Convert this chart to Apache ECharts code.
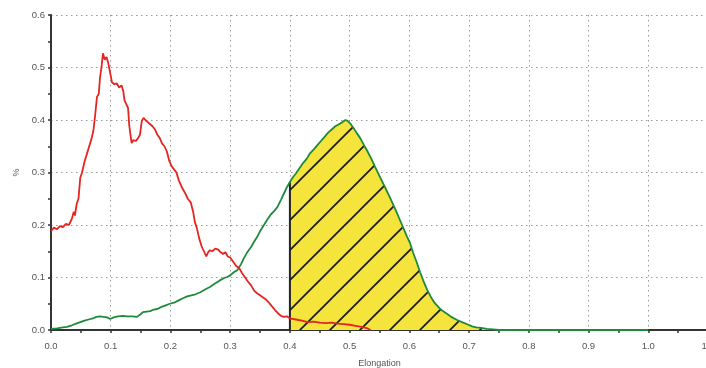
<!DOCTYPE html>
<html><head><meta charset="utf-8">
<script src="https://cdn.jsdelivr.net/npm/echarts@6/dist/echarts.min.js"></script>
<style>html,body{margin:0;padding:0;background:#fff}#c{width:706px;height:368px}</style>
</head><body><div id="c"></div>
<script>
var xTicks = [0,0.1,0.2,0.3,0.4,0.5,0.6,0.7,0.8,0.9,1.0,1.1];
var yTicks = [0,0.1,0.2,0.3,0.4,0.5,0.6];
var xName = 'Elongation';
var yName = '%';
var threshold = 0.4;

var redX = [0.000,0.005,0.010,0.015,0.020,0.025,0.030,0.035,0.038,0.040,0.043,0.046,0.049,0.052,0.056,0.060,0.064,0.068,0.071,0.074,0.077,0.080,0.082,0.085,0.087,0.090,0.093,0.096,0.099,0.102,0.106,0.110,0.114,0.118,0.121,0.123,0.126,0.129,0.131,0.133,0.135,0.138,0.142,0.146,0.149,0.152,0.155,0.158,0.162,0.166,0.170,0.174,0.178,0.182,0.186,0.190,0.194,0.198,0.202,0.206,0.210,0.214,0.219,0.224,0.229,0.234,0.238,0.241,0.244,0.248,0.252,0.256,0.260,0.263,0.266,0.270,0.275,0.280,0.284,0.288,0.292,0.296,0.300,0.305,0.310,0.315,0.320,0.325,0.330,0.335,0.340,0.345,0.350,0.355,0.360,0.365,0.370,0.375,0.380,0.385,0.390,0.395,0.400,0.410,0.420,0.430,0.440,0.450,0.460,0.470,0.480,0.490,0.500,0.510,0.520,0.530,0.535];
var redY = [0.188,0.195,0.192,0.198,0.196,0.202,0.200,0.212,0.225,0.218,0.240,0.250,0.290,0.300,0.320,0.335,0.350,0.365,0.380,0.410,0.444,0.450,0.480,0.505,0.527,0.515,0.520,0.508,0.510,0.472,0.468,0.470,0.462,0.466,0.455,0.438,0.430,0.423,0.390,0.372,0.356,0.362,0.360,0.366,0.372,0.398,0.404,0.400,0.396,0.392,0.388,0.382,0.372,0.366,0.355,0.350,0.340,0.322,0.312,0.306,0.300,0.285,0.272,0.262,0.250,0.243,0.225,0.205,0.195,0.175,0.160,0.150,0.140,0.148,0.152,0.150,0.155,0.153,0.148,0.145,0.148,0.140,0.138,0.130,0.122,0.118,0.108,0.100,0.092,0.085,0.075,0.070,0.066,0.062,0.058,0.052,0.045,0.038,0.032,0.027,0.025,0.026,0.022,0.020,0.018,0.015,0.016,0.014,0.013,0.014,0.012,0.011,0.010,0.008,0.006,0.003,0.000];

var greenX = [0.000,0.010,0.020,0.027,0.035,0.042,0.049,0.056,0.063,0.070,0.076,0.082,0.088,0.094,0.099,0.105,0.112,0.120,0.128,0.136,0.144,0.150,0.154,0.160,0.166,0.172,0.178,0.185,0.192,0.199,0.206,0.213,0.220,0.228,0.235,0.242,0.250,0.258,0.266,0.274,0.282,0.290,0.295,0.300,0.306,0.312,0.318,0.323,0.328,0.335,0.340,0.345,0.350,0.356,0.362,0.368,0.374,0.379,0.385,0.390,0.395,0.400,0.405,0.410,0.416,0.422,0.428,0.434,0.440,0.446,0.452,0.458,0.464,0.470,0.476,0.482,0.488,0.493,0.497,0.502,0.507,0.512,0.518,0.524,0.530,0.536,0.542,0.548,0.554,0.560,0.566,0.572,0.578,0.584,0.590,0.596,0.601,0.606,0.612,0.618,0.624,0.630,0.636,0.642,0.650,0.656,0.663,0.670,0.680,0.690,0.697,0.705,0.712,0.720,0.730,0.740,0.750,0.800,0.900,1.000];
var greenY = [0.002,0.003,0.005,0.006,0.009,0.012,0.015,0.018,0.020,0.022,0.025,0.026,0.025,0.024,0.021,0.024,0.026,0.027,0.026,0.026,0.025,0.030,0.034,0.035,0.036,0.039,0.040,0.044,0.047,0.050,0.052,0.056,0.060,0.064,0.066,0.068,0.072,0.077,0.082,0.088,0.094,0.099,0.101,0.104,0.110,0.114,0.125,0.137,0.147,0.158,0.168,0.177,0.188,0.199,0.210,0.220,0.227,0.234,0.248,0.260,0.272,0.282,0.291,0.298,0.308,0.318,0.326,0.337,0.344,0.352,0.360,0.368,0.376,0.382,0.388,0.392,0.396,0.400,0.398,0.392,0.384,0.375,0.365,0.352,0.340,0.327,0.312,0.298,0.284,0.270,0.256,0.241,0.226,0.210,0.194,0.178,0.166,0.148,0.130,0.110,0.092,0.076,0.063,0.052,0.042,0.036,0.031,0.025,0.019,0.014,0.011,0.007,0.005,0.004,0.002,0.001,0.000,0.000,0.000,0.000];

function pairs(xs, ys){ return xs.map(function(x,i){ return [x, ys[i]]; }); }
var redData = pairs(redX, redY);
var greenData = pairs(greenX, greenY);
var areaData = greenData.filter(function(p){ return p[0] >= threshold && p[0] <= 0.75; });
var thrY = areaData[0][1];
var edgeData = [[threshold, 0], [threshold, thrY]];

// hatch pattern tile
var tile = document.createElement('canvas');
tile.width = 30; tile.height = 30;
var g = tile.getContext('2d');
g.fillStyle = '#f4e43c'; g.fillRect(0,0,30,30);
g.strokeStyle = '#1a1a1a'; g.lineWidth = 1.7;
g.beginPath(); g.moveTo(-1,31); g.lineTo(31,-1); g.stroke();
g.beginPath(); g.moveTo(-1,1); g.lineTo(1,-1); g.stroke();
g.beginPath(); g.moveTo(29,31); g.lineTo(31,29); g.stroke();

var labelStyle = {color:'#555', fontSize:9.5, fontFamily:'Liberation Sans, Arial, sans-serif'};
var chart = echarts.init(document.getElementById('c'), null, {renderer:'canvas'});
chart.setOption({
  animation:false,
  backgroundColor:'#fff',
  grid:{left:51, right:-2, top:15, bottom:38, containLabel:false, outerBoundsMode:'none'},
  xAxis:{type:'value', min:xTicks[0], max:xTicks[xTicks.length-1], interval:0.1,
    name:xName, nameLocation:'middle', nameGap:29,
    nameTextStyle:{color:'#555', fontSize:9, fontFamily:'Liberation Sans, Arial, sans-serif'},
    axisLine:{show:true, lineStyle:{color:'#333', width:2}},
    axisTick:{show:true, length:3, lineStyle:{color:'#333', width:1.5}},
    minorTick:{show:true, splitNumber:2, length:3, lineStyle:{color:'#333', width:1.5}},
    axisLabel:Object.assign({margin:11, showMaxLabel:true, formatter:function(v){return (+v).toFixed(1);}}, labelStyle),
    splitLine:{show:true, lineStyle:{color:'#999', width:1, type:[1.5,3.5]}}
  },
  yAxis:{type:'value', min:yTicks[0], max:yTicks[yTicks.length-1], interval:0.1,
    name:yName, nameLocation:'middle', nameGap:27, nameRotate:90,
    nameTextStyle:{color:'#555', fontSize:9, fontFamily:'Liberation Sans, Arial, sans-serif'},
    axisLine:{show:true, lineStyle:{color:'#333', width:2}},
    axisTick:{show:true, length:3, lineStyle:{color:'#333', width:1.5}},
    minorTick:{show:true, splitNumber:2, length:3, lineStyle:{color:'#333', width:1.5}},
    axisLabel:Object.assign({margin:6, formatter:function(v){return (+v).toFixed(1);}}, labelStyle),
    splitLine:{show:true, lineStyle:{color:'#999', width:1, type:[1.5,3.5]}}
  },
  series:[
    {type:'line', data:areaData, symbol:'none', silent:true, z:1,
     lineStyle:{width:0}, areaStyle:{color:{image:tile, repeat:'repeat'}, opacity:1}},
    {type:'line', data:edgeData, symbol:'none', silent:true, z:2,
     lineStyle:{color:'#222', width:2}},
    {type:'line', data:greenData, symbol:'none', z:3,
     lineStyle:{color:'#1f8a3a', width:1.8}},
    {type:'line', data:redData, symbol:'none', z:4,
     lineStyle:{color:'#e52521', width:1.8}}
  ]
});
</script></body></html>
